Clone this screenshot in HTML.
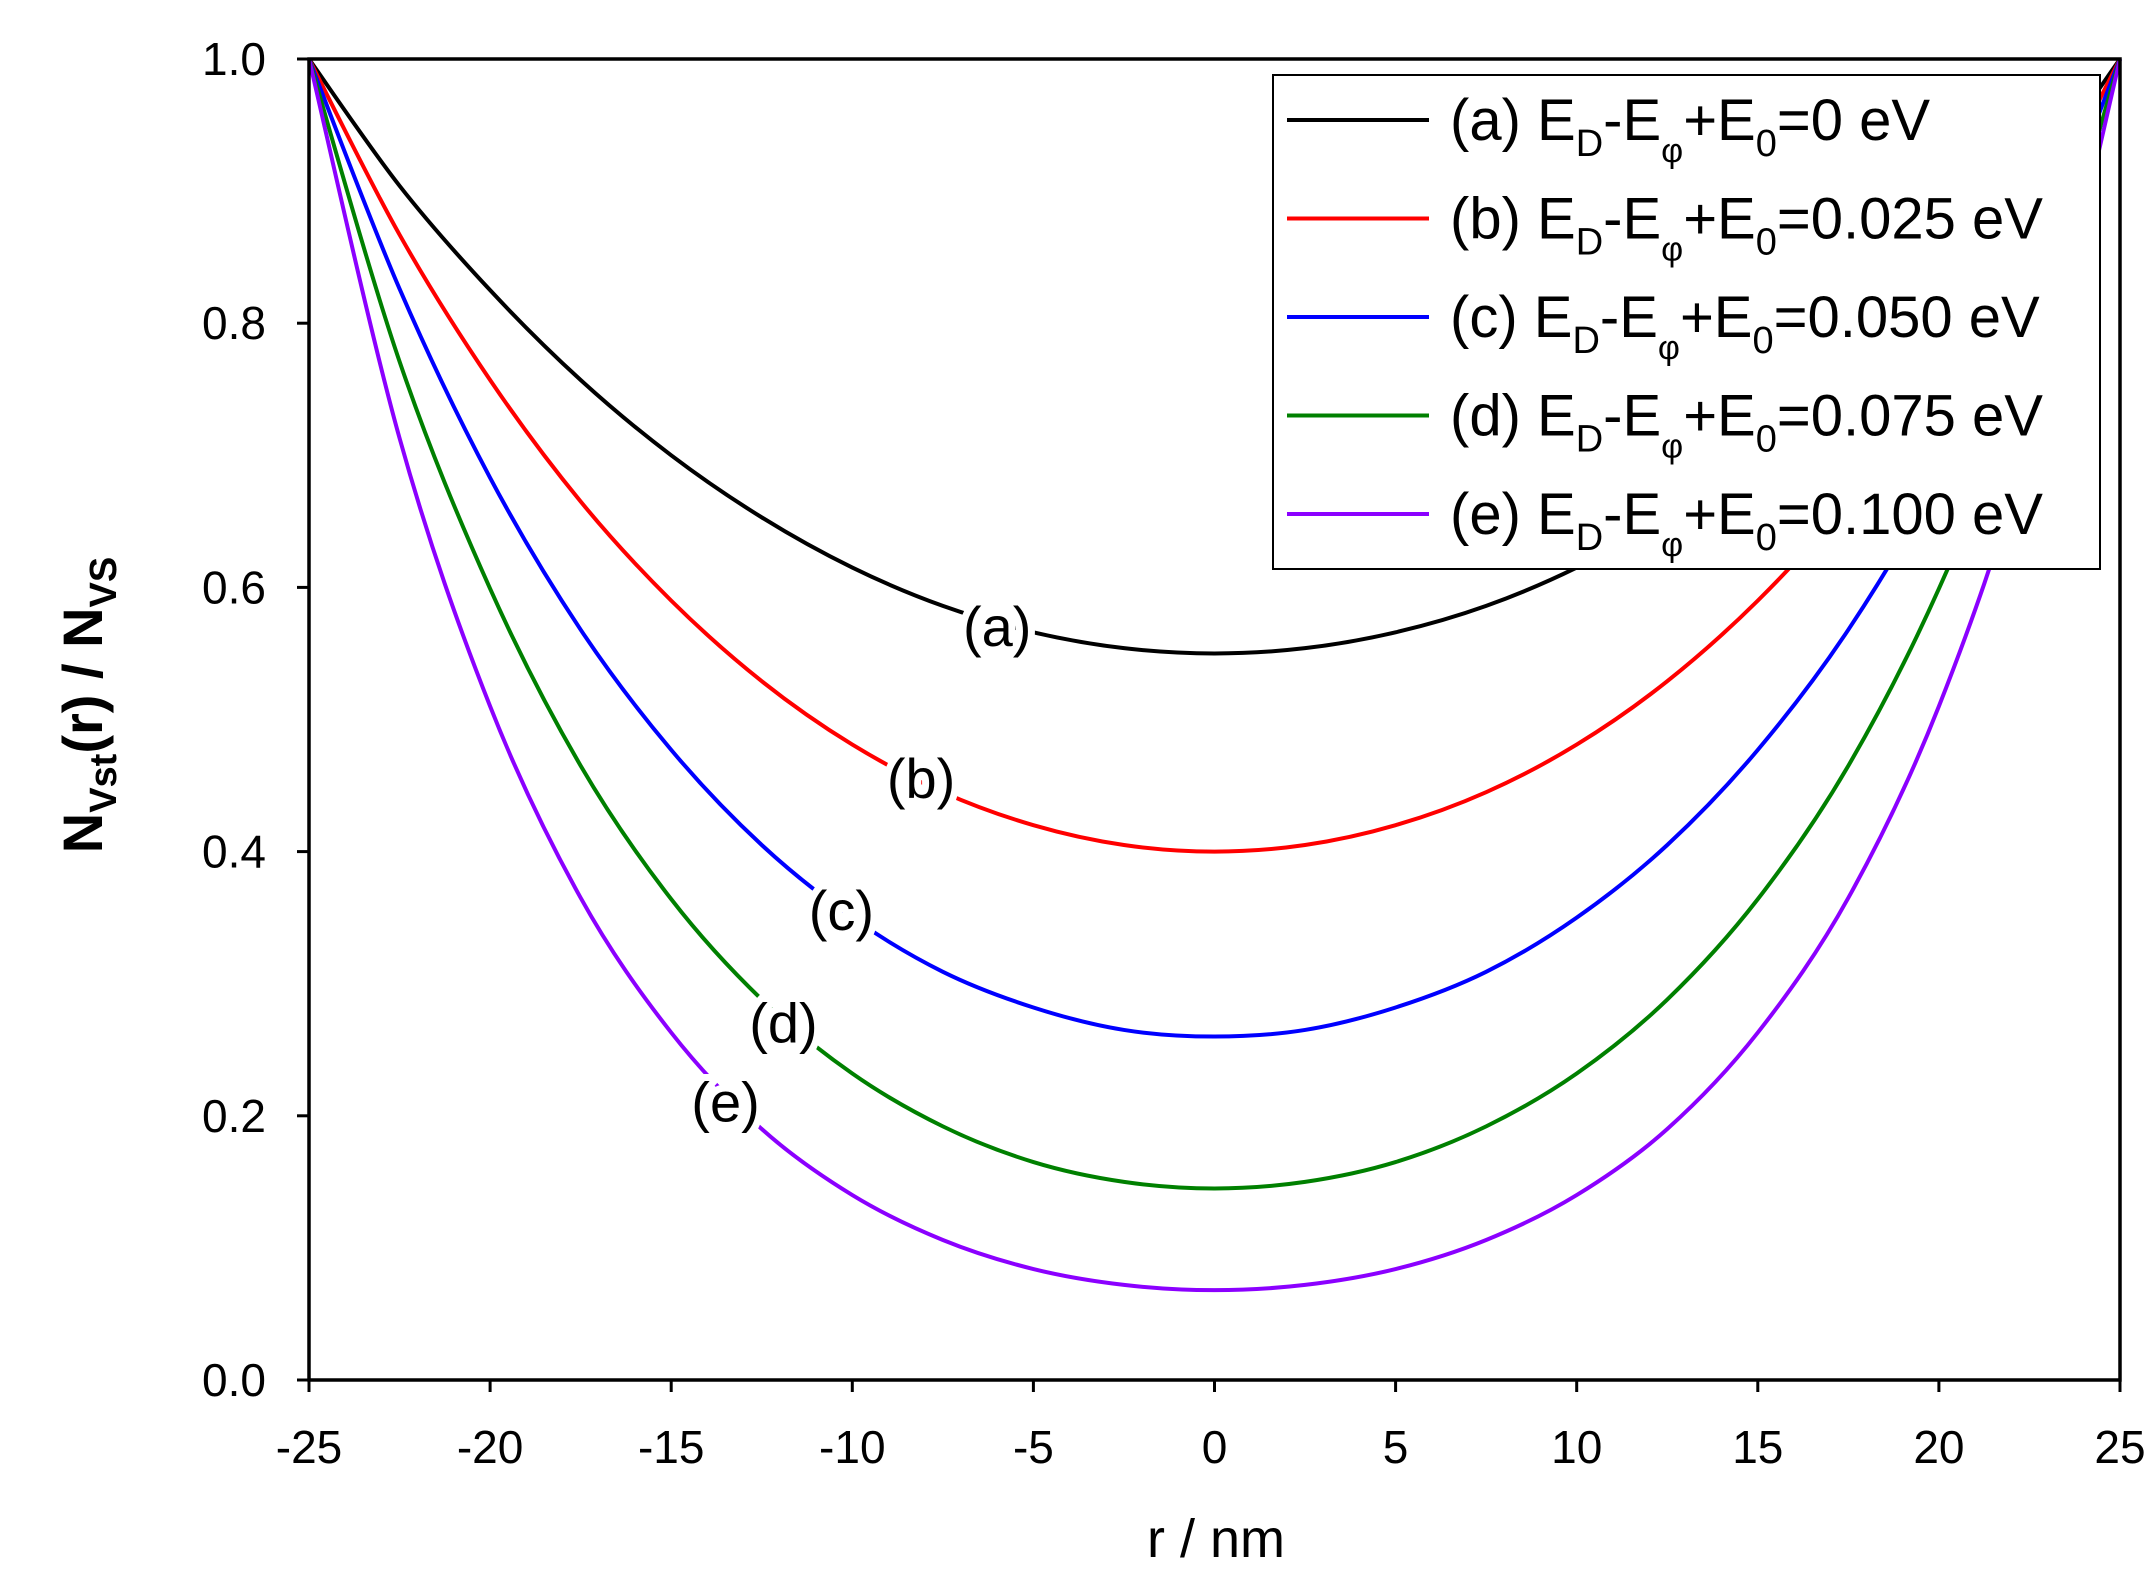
<!DOCTYPE html>
<html><head><meta charset="utf-8"><style>
body{margin:0;background:#fff}
svg{display:block;font-family:"Liberation Sans",sans-serif}
</style></head><body>
<svg id="chart" width="2154" height="1569" viewBox="0 0 2154 1569">
<g id="plot"></g>
</svg>
<script>
const rVals=[-25,-22.5,-20,-17.5,-15,-12.5,-10,-7.5,-5,-2.5,0,2.5,5,7.5,10,12.5,15,17.5,20,22.5,25];
const halfA=[0.550,0.554,0.566,0.586,0.615,0.653,0.700,0.757,0.825,0.904,1.0];
const halfB=[0.400,0.405,0.420,0.445,0.481,0.529,0.590,0.665,0.757,0.867,1.0];
const halfC=[0.260,0.265,0.282,0.309,0.350,0.405,0.477,0.568,0.683,0.826,1.0];
const halfD=[0.145,0.150,0.165,0.192,0.232,0.288,0.364,0.465,0.599,0.771,1.0];
const halfE=[0.068,0.072,0.084,0.106,0.140,0.190,0.263,0.365,0.510,0.713,1.0];
const xTicks=[-25,-20,-15,-10,-5,0,5,10,15,20,25];
const yTicks=[0,0.2,0.4,0.6,0.8,1.0];
const seriesNames=["a","b","c","d","e"];
const seriesColors=["#000000","#ff0000","#0000ff","#008000","#8b00ff"];
const legendValues=["0","0.025","0.050","0.075","0.100"];
const curveLabelPos=[[-6,0.57],[-8.1,0.455],[-10.3,0.355],[-11.9,0.27],[-13.5,0.21]];

const L=309,R=2120,T=59,B=1380;
const X=v=>L+(v+25)/50*(R-L);
const Y=v=>B-v*(B-T);
const NS="http://www.w3.org/2000/svg";
const g=document.getElementById('plot');
function mk(t,a,p){const e=document.createElementNS(NS,t);for(const k in a)e.setAttribute(k,a[k]);(p||g).appendChild(e);return e;}
function full(h){return h.slice().reverse().concat(h.slice(1));}
const allSeries=[full(halfA),full(halfB),full(halfC),full(halfD),full(halfE)];

allSeries.forEach((s,i)=>{
  const pts=s.map((v,j)=>[X(rVals[j]),Y(v)]);
  let d="M"+pts[0][0]+","+pts[0][1];
  for(let j=0;j<pts.length-1;j++){
    const p0=pts[Math.max(0,j-1)],p1=pts[j],p2=pts[j+1],p3=pts[Math.min(pts.length-1,j+2)];
    const c1=[p1[0]+(p2[0]-p0[0])/6,p1[1]+(p2[1]-p0[1])/6];
    const c2=[p2[0]-(p3[0]-p1[0])/6,p2[1]-(p3[1]-p1[1])/6];
    d+=`C${c1[0]},${c1[1]} ${c2[0]},${c2[1]} ${p2[0]},${p2[1]}`;
  }
  const p=mk('path',{d:d,fill:'none',stroke:seriesColors[i],'stroke-width':4});
  
  
});
curveLabelPos.forEach((c,i)=>{
  const t=mk('text',{x:X(c[0]),y:Y(c[1])+19,'font-size':56,'text-anchor':'middle',fill:'#000',stroke:'#fff','stroke-width':14,'paint-order':'stroke'});
  t.textContent='('+seriesNames[i]+')';
  
  
});
const fr=mk('rect',{x:L,y:T,width:R-L,height:B-T,fill:'none',stroke:'#000','stroke-width':3.5});


xTicks.forEach(v=>{
  mk('line',{x1:X(v),x2:X(v),y1:B,y2:B+12,stroke:'#000','stroke-width':3});
  const t=mk('text',{x:X(v),y:1463,'font-size':46,'text-anchor':'middle'});
  t.textContent=v;
  
  
});
yTicks.forEach(v=>{
  mk('line',{x1:L-12,x2:L,y1:Y(v),y2:Y(v),stroke:'#000','stroke-width':3});
  const t=mk('text',{x:266,y:Y(v)+16,'font-size':46,'text-anchor':'end'});
  t.textContent=v.toFixed(1);
  
  
});
const xt=mk('text',{x:1216,y:1557,'font-size':54,'text-anchor':'middle'});
xt.textContent='r / nm';


const yt=mk('text',{x:0,y:0,'font-size':56,'font-weight':'bold','text-anchor':'middle',transform:'translate(102,705) rotate(-90)'});
yt.innerHTML='N<tspan font-size="38" dy="14">Vst</tspan><tspan dy="-14">(r) / N</tspan><tspan font-size="38" dy="14">VS</tspan>';


const lg=mk('g',{});


mk('rect',{x:1273,y:75,width:827,height:494,fill:'#fff',stroke:'#000','stroke-width':2},lg);
seriesNames.forEach((n,i)=>{
  const y=120+i*98.5;
  const e=mk('g',{},lg);
  
  
  mk('line',{x1:1287,x2:1429,y1:y,y2:y,stroke:seriesColors[i],'stroke-width':4},e);
  const t=mk('text',{x:1450,y:y+20,'font-size':58},e);
  t.innerHTML=`(${n}) E<tspan font-size="38" dy="16">D</tspan><tspan dy="-16">-E</tspan><tspan font-size="34" dy="22">φ</tspan><tspan dy="-22">+E</tspan><tspan font-size="38" dy="16">0</tspan><tspan dy="-16">=${legendValues[i]} eV</tspan>`;
});
</script>
</body></html>
